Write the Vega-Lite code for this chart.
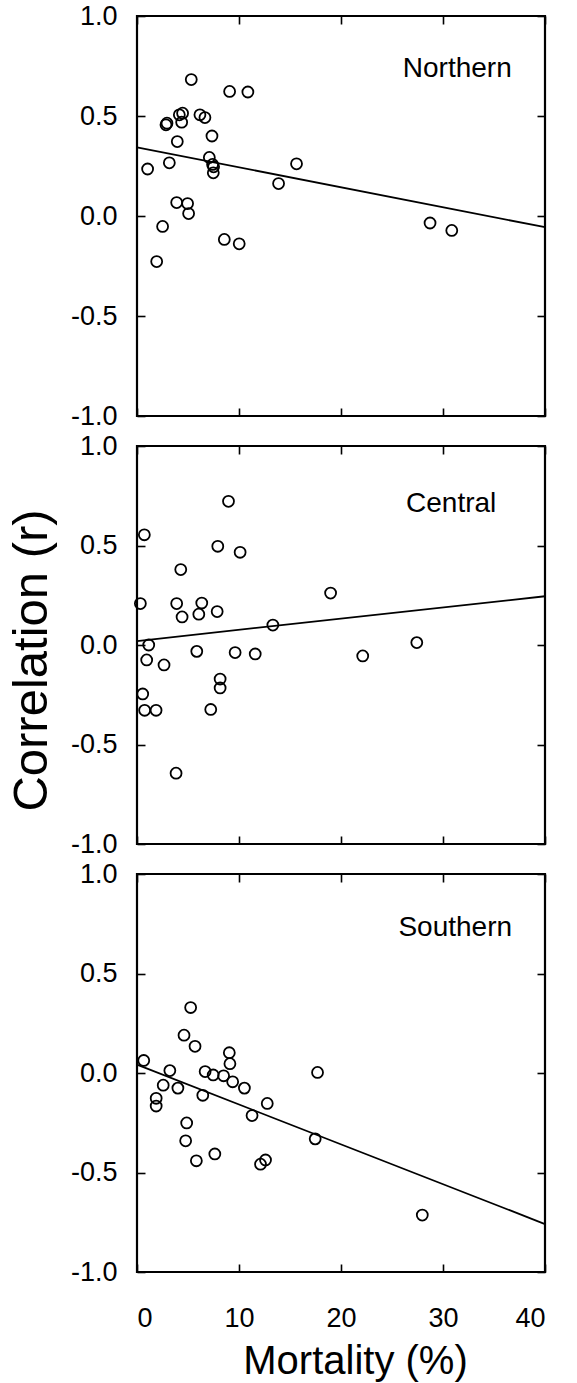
{
  "$schema": "https://vega.github.io/schema/vega-lite/v6.json",
  "background": "white",
  "padding": {"left": 6, "top": 0, "right": 5, "bottom": 0},
  "bounds": "flush",
  "spacing": 30,
  "config": {
    "font": "Liberation Sans",
    "view": {"stroke": "black", "strokeWidth": 2.2},
    "axis": {
      "domain": false,
      "grid": false,
      "tickColor": "black",
      "tickWidth": 1.6,
      "tickSize": -8,
      "labelColor": "black",
      "labelFontSize": 27,
      "labelFont": "Liberation Sans",
      "titleColor": "black",
      "titleFont": "Liberation Sans",
      "titleFontWeight": "normal"
    }
  },
  "datasets": {
    "points": [
      {"region": "Northern", "mortality": 1.04, "r": 0.235},
      {"region": "Northern", "mortality": 1.93, "r": -0.228},
      {"region": "Northern", "mortality": 2.51, "r": -0.052},
      {"region": "Northern", "mortality": 2.84, "r": 0.456},
      {"region": "Northern", "mortality": 2.94, "r": 0.464},
      {"region": "Northern", "mortality": 3.17, "r": 0.266},
      {"region": "Northern", "mortality": 3.89, "r": 0.067},
      {"region": "Northern", "mortality": 3.95, "r": 0.372},
      {"region": "Northern", "mortality": 4.15, "r": 0.506},
      {"region": "Northern", "mortality": 4.47, "r": 0.514},
      {"region": "Northern", "mortality": 4.38, "r": 0.469},
      {"region": "Northern", "mortality": 4.96, "r": 0.062},
      {"region": "Northern", "mortality": 5.06, "r": 0.012},
      {"region": "Northern", "mortality": 5.32, "r": 0.682},
      {"region": "Northern", "mortality": 6.17, "r": 0.506},
      {"region": "Northern", "mortality": 6.66, "r": 0.492},
      {"region": "Northern", "mortality": 7.09, "r": 0.293},
      {"region": "Northern", "mortality": 7.35, "r": 0.4},
      {"region": "Northern", "mortality": 7.41, "r": 0.258},
      {"region": "Northern", "mortality": 7.51, "r": 0.246},
      {"region": "Northern", "mortality": 7.48, "r": 0.216},
      {"region": "Northern", "mortality": 8.56, "r": -0.117},
      {"region": "Northern", "mortality": 9.08, "r": 0.623},
      {"region": "Northern", "mortality": 10.02, "r": -0.139},
      {"region": "Northern", "mortality": 10.87, "r": 0.62},
      {"region": "Northern", "mortality": 13.88, "r": 0.162},
      {"region": "Northern", "mortality": 15.64, "r": 0.261},
      {"region": "Northern", "mortality": 28.73, "r": -0.035},
      {"region": "Northern", "mortality": 30.86, "r": -0.072},
      {"region": "Central", "mortality": 0.33, "r": 0.208},
      {"region": "Central", "mortality": 0.72, "r": 0.554},
      {"region": "Central", "mortality": 1.15, "r": 0.0},
      {"region": "Central", "mortality": 0.95, "r": -0.075},
      {"region": "Central", "mortality": 0.56, "r": -0.246},
      {"region": "Central", "mortality": 0.75, "r": -0.328},
      {"region": "Central", "mortality": 1.87, "r": -0.328},
      {"region": "Central", "mortality": 2.65, "r": -0.1},
      {"region": "Central", "mortality": 3.89, "r": 0.208},
      {"region": "Central", "mortality": 3.83, "r": -0.644},
      {"region": "Central", "mortality": 4.29, "r": 0.379},
      {"region": "Central", "mortality": 4.42, "r": 0.141},
      {"region": "Central", "mortality": 5.86, "r": -0.032},
      {"region": "Central", "mortality": 6.06, "r": 0.155},
      {"region": "Central", "mortality": 6.35, "r": 0.211},
      {"region": "Central", "mortality": 7.23, "r": -0.324},
      {"region": "Central", "mortality": 7.86, "r": 0.168},
      {"region": "Central", "mortality": 7.92, "r": 0.496},
      {"region": "Central", "mortality": 8.15, "r": -0.171},
      {"region": "Central", "mortality": 8.15, "r": -0.216},
      {"region": "Central", "mortality": 8.97, "r": 0.722},
      {"region": "Central", "mortality": 9.62, "r": -0.038},
      {"region": "Central", "mortality": 10.11, "r": 0.466},
      {"region": "Central", "mortality": 11.59, "r": -0.045},
      {"region": "Central", "mortality": 13.32, "r": 0.1},
      {"region": "Central", "mortality": 18.98, "r": 0.261},
      {"region": "Central", "mortality": 22.13, "r": -0.055},
      {"region": "Central", "mortality": 27.43, "r": 0.012},
      {"region": "Southern", "mortality": 0.66, "r": 0.063},
      {"region": "Southern", "mortality": 1.88, "r": -0.127},
      {"region": "Southern", "mortality": 1.88, "r": -0.166},
      {"region": "Southern", "mortality": 2.57, "r": -0.061},
      {"region": "Southern", "mortality": 3.22, "r": 0.012},
      {"region": "Southern", "mortality": 4.01, "r": -0.076},
      {"region": "Southern", "mortality": 4.61, "r": 0.19},
      {"region": "Southern", "mortality": 4.87, "r": -0.251},
      {"region": "Southern", "mortality": 4.77, "r": -0.341},
      {"region": "Southern", "mortality": 5.26, "r": 0.329},
      {"region": "Southern", "mortality": 5.69, "r": 0.134},
      {"region": "Southern", "mortality": 5.82, "r": -0.441},
      {"region": "Southern", "mortality": 6.45, "r": -0.112},
      {"region": "Southern", "mortality": 6.68, "r": 0.007},
      {"region": "Southern", "mortality": 7.47, "r": -0.01},
      {"region": "Southern", "mortality": 7.63, "r": -0.407},
      {"region": "Southern", "mortality": 8.49, "r": -0.014},
      {"region": "Southern", "mortality": 9.05, "r": 0.102},
      {"region": "Southern", "mortality": 9.11, "r": 0.047},
      {"region": "Southern", "mortality": 9.38, "r": -0.044},
      {"region": "Southern", "mortality": 10.53, "r": -0.076},
      {"region": "Southern", "mortality": 11.28, "r": -0.214},
      {"region": "Southern", "mortality": 12.11, "r": -0.458},
      {"region": "Southern", "mortality": 12.6, "r": -0.437},
      {"region": "Southern", "mortality": 12.77, "r": -0.153},
      {"region": "Southern", "mortality": 17.47, "r": -0.331},
      {"region": "Southern", "mortality": 17.7, "r": 0.003},
      {"region": "Southern", "mortality": 27.97, "r": -0.714}
    ],
    "fits": [
      {"region": "Northern", "mortality": 0, "r": 0.343},
      {"region": "Northern", "mortality": 40, "r": -0.056},
      {"region": "Central", "mortality": 0, "r": 0.02},
      {"region": "Central", "mortality": 40, "r": 0.245},
      {"region": "Southern", "mortality": 0, "r": 0.042},
      {"region": "Southern", "mortality": 40, "r": -0.759}
    ],
    "labels": [
      {"region": "Northern"},
      {"region": "Central"},
      {"region": "Southern"}
    ]
  },
  "vconcat": [
    {
      "width": 408,
      "height": 400,
      "layer": [
        {
          "data": {"name": "points"},
          "transform": [{"filter": "datum.region === 'Northern'"}],
          "mark": {"type": "point", "shape": "circle", "filled": false, "color": "black", "size": 120, "strokeWidth": 1.8, "opacity": 1},
          "encoding": {
            "x": {"field": "mortality", "type": "quantitative", "scale": {"domain": [0, 40], "nice": false, "zero": false},
              "axis": {"orient": "bottom", "values": [0, 10, 20, 30, 40], "labels": false, "title": null}},
            "y": {"field": "r", "type": "quantitative", "scale": {"domain": [-1, 1], "nice": false, "zero": false},
              "axis": {"orient": "left", "values": [-1, -0.5, 0, 0.5, 1], "labelPadding": 28, "labelExpr": "datum.value < 0 ? '-' + format(-datum.value, '.1f') : format(datum.value, '.1f')", "title": null}}
          }
        },
        {
          "data": {"name": "fits"},
          "transform": [{"filter": "datum.region === 'Northern'"}],
          "mark": {"type": "line", "color": "black", "strokeWidth": 1.8},
          "encoding": {
            "x": {"field": "mortality", "type": "quantitative", "scale": {"domain": [0, 40], "nice": false, "zero": false},
              "axis": {"orient": "top", "values": [0, 10, 20, 30, 40], "labels": false, "title": null}},
            "y": {"field": "r", "type": "quantitative", "scale": {"domain": [-1, 1], "nice": false, "zero": false},
              "axis": {"orient": "right", "values": [-1, -0.5, 0, 0.5, 1], "labels": false, "title": null}}
          }
        },
        {
          "data": {"name": "labels"},
          "transform": [{"filter": "datum.region === 'Northern'"}],
          "mark": {"type": "text", "font": "Liberation Sans", "fontSize": 28, "color": "black", "align": "center", "baseline": "alphabetic"},
          "encoding": {
            "text": {"field": "region", "type": "nominal"},
            "x": {"datum": 31.4, "type": "quantitative", "axis": null},
            "y": {"datum": 0.693, "type": "quantitative", "axis": null}
          }
        }
      ],
      "resolve": {"axis": {"x": "independent", "y": "independent"}}
    },
    {
      "width": 408,
      "height": 398,
      "layer": [
        {
          "data": {"name": "points"},
          "transform": [{"filter": "datum.region === 'Central'"}],
          "mark": {"type": "point", "shape": "circle", "filled": false, "color": "black", "size": 120, "strokeWidth": 1.8, "opacity": 1},
          "encoding": {
            "x": {"field": "mortality", "type": "quantitative", "scale": {"domain": [0, 40], "nice": false, "zero": false},
              "axis": {"orient": "bottom", "values": [0, 10, 20, 30, 40], "labels": false, "title": null}},
            "y": {"field": "r", "type": "quantitative", "scale": {"domain": [-1, 1], "nice": false, "zero": false},
              "axis": {"orient": "left", "values": [-1, -0.5, 0, 0.5, 1], "labelPadding": 28, "labelExpr": "datum.value < 0 ? '-' + format(-datum.value, '.1f') : format(datum.value, '.1f')",
                "title": "Correlation (r)", "titleFontSize": 49, "titlePadding": 14, "titleY": 214}}
          }
        },
        {
          "data": {"name": "fits"},
          "transform": [{"filter": "datum.region === 'Central'"}],
          "mark": {"type": "line", "color": "black", "strokeWidth": 1.8},
          "encoding": {
            "x": {"field": "mortality", "type": "quantitative", "scale": {"domain": [0, 40], "nice": false, "zero": false},
              "axis": {"orient": "top", "values": [0, 10, 20, 30, 40], "labels": false, "title": null}},
            "y": {"field": "r", "type": "quantitative", "scale": {"domain": [-1, 1], "nice": false, "zero": false},
              "axis": {"orient": "right", "values": [-1, -0.5, 0, 0.5, 1], "labels": false, "title": null}}
          }
        },
        {
          "data": {"name": "labels"},
          "transform": [{"filter": "datum.region === 'Central'"}],
          "mark": {"type": "text", "font": "Liberation Sans", "fontSize": 28, "color": "black", "align": "center", "baseline": "alphabetic"},
          "encoding": {
            "text": {"field": "region", "type": "nominal"},
            "x": {"datum": 30.8, "type": "quantitative", "axis": null},
            "y": {"datum": 0.666, "type": "quantitative", "axis": null}
          }
        }
      ],
      "resolve": {"axis": {"x": "independent", "y": "independent"}}
    },
    {
      "width": 408,
      "height": 398,
      "layer": [
        {
          "data": {"name": "points"},
          "transform": [{"filter": "datum.region === 'Southern'"}],
          "mark": {"type": "point", "shape": "circle", "filled": false, "color": "black", "size": 120, "strokeWidth": 1.8, "opacity": 1},
          "encoding": {
            "x": {"field": "mortality", "type": "quantitative", "scale": {"domain": [0, 40], "nice": false, "zero": false},
              "axis": {"orient": "bottom", "values": [0, 10, 20, 30, 40], "labelPadding": 41, "title": "Mortality (%)", "titleFontSize": 40, "titlePadding": 10, "titleX": 218}},
            "y": {"field": "r", "type": "quantitative", "scale": {"domain": [-1, 1], "nice": false, "zero": false},
              "axis": {"orient": "left", "values": [-1, -0.5, 0, 0.5, 1], "labelPadding": 28, "labelExpr": "datum.value < 0 ? '-' + format(-datum.value, '.1f') : format(datum.value, '.1f')", "title": null}}
          }
        },
        {
          "data": {"name": "fits"},
          "transform": [{"filter": "datum.region === 'Southern'"}],
          "mark": {"type": "line", "color": "black", "strokeWidth": 1.8},
          "encoding": {
            "x": {"field": "mortality", "type": "quantitative", "scale": {"domain": [0, 40], "nice": false, "zero": false},
              "axis": {"orient": "top", "values": [0, 10, 20, 30, 40], "labels": false, "title": null}},
            "y": {"field": "r", "type": "quantitative", "scale": {"domain": [-1, 1], "nice": false, "zero": false},
              "axis": {"orient": "right", "values": [-1, -0.5, 0, 0.5, 1], "labels": false, "title": null}}
          }
        },
        {
          "data": {"name": "labels"},
          "transform": [{"filter": "datum.region === 'Southern'"}],
          "mark": {"type": "text", "font": "Liberation Sans", "fontSize": 28, "color": "black", "align": "center", "baseline": "alphabetic"},
          "encoding": {
            "text": {"field": "region", "type": "nominal"},
            "x": {"datum": 31.2, "type": "quantitative", "axis": null},
            "y": {"datum": 0.69, "type": "quantitative", "axis": null}
          }
        }
      ],
      "resolve": {"axis": {"x": "independent", "y": "independent"}}
    }
  ]
}
